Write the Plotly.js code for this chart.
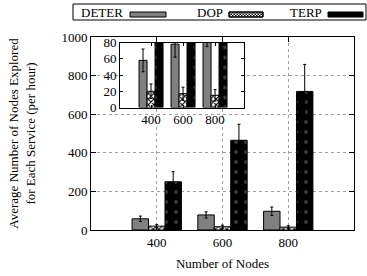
<!DOCTYPE html>
<html>
<head>
<meta charset="utf-8">
<script src="https://cdn.plot.ly/plotly-3.0.1.min.js"></script>
<style>html,body{margin:0;padding:0;background:#fff;}#chart{width:367px;height:276px;}</style>
</head>
<body>
<div id="chart"></div>
<script>
// ---- data ----
const categories = [400, 600, 800];
const tickLabels = ["400", "600", "800"];
const seriesNames = ["DETER", "DOP", "TERP"];
const deter = [58, 78, 97];
const deterErr = [14, 16, 22];
const dop = [20, 17, 15];
const dopErr = [9, 8, 7];
const terp = [250, 465, 718];
const terpErr = [52, 83, 140];

// ---- layout geometry ----
const W = 367, H = 276;
const M = {l: 91, r: 13, t: 37, b: 46};
const PW = W - M.l - M.r, PH = H - M.t - M.b;
const px = x => (x - M.l) / PW;
const py = y => (H - M.b - y) / PH;

const FONT = "'Liberation Serif', 'Times New Roman', serif";

const styles = [
  {color: "#808080", line: {color: "black", width: 1}},
  {color: "white", line: {color: "black", width: 1},
   pattern: {shape: "x", fgcolor: "black", bgcolor: "white", size: 4, solidity: 0.45}},
  {color: "black", line: {color: "black", width: 1},
   pattern: {shape: ".", fgcolor: "#3a3a3a", bgcolor: "black", size: 10, solidity: 0.12}}
];
const values = [deter, dop, terp];
const errs = [deterErr, dopErr, terpErr];

const traces = [];
["x", "x2"].forEach((xa, k) => {
  values.forEach((v, i) => {
    traces.push({
      type: "bar",
      name: seriesNames[i],
      x: categories,
      y: v,
      xaxis: xa,
      yaxis: k === 0 ? "y" : "y2",
      marker: styles[i],
      error_y: {type: "data", array: errs[i], visible: true, color: "black", thickness: 1, width: 1.5},
      showlegend: false,
      hoverinfo: "skip"
    });
  });
});

const axisCommon = {
  showline: true, mirror: "ticks", linecolor: "black", linewidth: 1,
  ticks: "inside", ticklen: 5, tickcolor: "black",
  tickfont: {family: FONT, size: 13, color: "black"},
  zeroline: false
};

// legend (gnuplot-style: label then sample)
const legendBox = {x0: 73, x1: 366, y0: 4, y1: 20};
const legendItems = [
  {textX: 79, s0: 130, s1: 166},
  {textX: 195, s0: 229, s1: 263},
  {textX: 288, s0: 328, s1: 363}
];
const swY0 = 12, swY1 = 17;
const swatchFill = ["#808080", "white", "black"];

const inX = [px(120), px(244)], inY = [py(107.5), py(42.5)];
const inXRange = [206, 981], inYRange = [0, 80];

const shapes = [
  {type: "rect", xref: "x2", yref: "y2", x0: inXRange[0], x1: inXRange[1], y0: inYRange[0], y1: inYRange[1],
   fillcolor: "white", line: {width: 0}, layer: "below"},
  {type: "rect", xref: "paper", yref: "paper", x0: px(legendBox.x0), x1: px(legendBox.x1),
   y0: py(legendBox.y1), y1: py(legendBox.y0), line: {color: "black", width: 1}, fillcolor: "white"}
];
const annotations = [];
legendItems.forEach((it, i) => {
  shapes.push({type: "rect", xref: "paper", yref: "paper", x0: px(it.s0), x1: px(it.s1),
    y0: py(swY1), y1: py(swY0), fillcolor: swatchFill[i], line: {color: "black", width: 1}});
  annotations.push({xref: "paper", yref: "paper", x: px(it.textX), y: py(12.5),
    xanchor: "left", yanchor: "middle", showarrow: false, text: seriesNames[i],
    font: {family: FONT, size: 13, color: "black"}});
});

// checker texture for the DOP legend sample
(function () {
  const it = legendItems[1];
  const c = 1.5;
  let d = "";
  let row = 0;
  for (let y = swY0; y < swY1 - 0.01; y += c, row++) {
    let col = 0;
    for (let x = it.s0; x < it.s1 - 0.01; x += c, col++) {
      if ((row + col) % 2 === 0) {
        const x1 = Math.min(x + c, it.s1), y1 = Math.min(y + c, swY1);
        d += `M${px(x)},${py(y)}L${px(x1)},${py(y)}L${px(x1)},${py(y1)}L${px(x)},${py(y1)}Z`;
      }
    }
  }
  shapes.push({type: "path", xref: "paper", yref: "paper", path: d,
    fillcolor: "black", line: {width: 0}});
  shapes.push({type: "rect", xref: "paper", yref: "paper", x0: px(it.s0), x1: px(it.s1),
    y0: py(swY1), y1: py(swY0), fillcolor: "rgba(0,0,0,0)", line: {color: "black", width: 1}});
})();

const layout = {
  width: W, height: H, margin: M,
  paper_bgcolor: "white", plot_bgcolor: "white",
  barmode: "group", bargap: 0.25, bargroupgap: 0,
  showlegend: false,
  font: {family: FONT, size: 13, color: "black"},
  xaxis: Object.assign({}, axisCommon, {
    range: [200, 1000], tickvals: categories, ticktext: tickLabels,
    showgrid: true, gridcolor: "#a0a0a0", griddash: "dot", gridwidth: 1,
    title: {text: "Number of Nodes", font: {family: FONT, size: 13}, standoff: 10}
  }),
  yaxis: Object.assign({}, axisCommon, {
    range: [0, 1000], dtick: 200,
    showgrid: true, gridcolor: "#a0a0a0", griddash: "dot", gridwidth: 1,
    title: {text: "Average Number of Nodes Explored<br>for Each Service (per hour)",
            font: {family: FONT, size: 13}, standoff: 22}
  }),
  xaxis2: Object.assign({}, axisCommon, {
    domain: inX, anchor: "y2", range: inXRange,
    tickvals: categories, ticktext: tickLabels, ticklen: 3, showgrid: false
  }),
  yaxis2: Object.assign({}, axisCommon, {
    domain: inY, anchor: "x2", range: inYRange, dtick: 20,
    ticklen: 3, showgrid: false
  }),
  shapes: shapes,
  annotations: annotations
};

Plotly.newPlot("chart", traces, layout, {staticPlot: true, displayModeBar: false});
</script>
</body>
</html>
